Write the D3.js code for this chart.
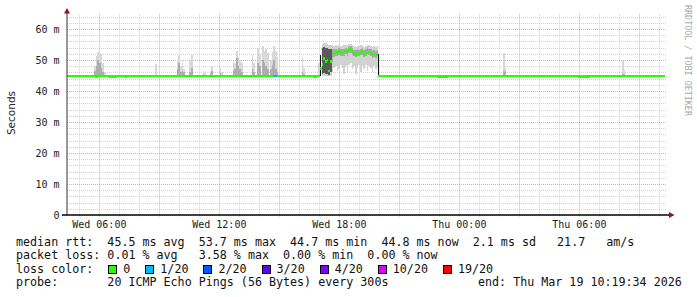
<!DOCTYPE html>
<html><head><meta charset="utf-8">
<script src="https://cdn.jsdelivr.net/npm/d3@7"></script>
<style>body{margin:0;background:#fff}svg{display:block}text{white-space:pre}</style>
</head><body><svg id="c" width="697" height="297"></svg>
<script>
// ---------------- data ----------------
const dayZero = new Date(2026, 2, 18, 0, 0, 0);      // Wed 00:00
const startHour = 4.383, endHour = 34.383;          // 30 hour window
const yTicks = [0, 10, 20, 30, 40, 50, 60];
const yTickLabels = ["0", "10 m", "20 m", "30 m", "40 m", "50 m", "60 m"];
const xTickHours = [6, 12, 18, 24, 30];
const xTickLabels = ["Wed 06:00", "Wed 12:00", "Wed 18:00", "Thu 00:00", "Thu 06:00"];

// median rtt (ms), each value holds until next time (hours since Wed 00:00)
const medianTimes = [4.383, 5.783, 5.933, 6.033, 6.433, 6.883, 7.283, 7.383, 14.70, 14.87, 16.683, 16.883,
  17.033, 17.118, 17.198, 17.283, 17.368, 17.448, 17.533, 17.618, 17.698, 17.783, 17.868, 17.948, 18.033,
  18.118, 18.198, 18.283, 18.368, 18.448, 18.533, 18.618, 18.698, 18.783, 18.868, 18.948, 19.033, 19.118,
  19.198, 19.283, 19.368, 19.448, 19.533, 19.618, 19.698, 19.783, 19.868,
  19.918, 22.90, 23.433, 24.533, 29.933, 30.533, 34.283];
const medianValues = [44.8, 44.6, 45.0, 44.8, 44.7, 44.8, 44.6, 44.8, 44.8, 44.8, 44.7, 44.8,
  47.2, 48.6, 50.4, 49.6, 50.0, 46.5, 49.5, 52.0, 52.2, 52.6, 52.3, 52.8, 52.5,
  52.2, 52.6, 52.9, 52.4, 53.4, 53.7, 52.9, 52.1, 51.8, 52.3, 52.0, 52.5, 52.7,
  51.9, 52.4, 53.1, 52.6, 52.2, 51.7, 51.9, 51.6, 52.1,
  44.8, 44.7, 44.8, 44.8, 44.7, 44.8, 44.8];
const medianLoss = medianTimes.map((t, i) => (i === 8 ? 1 : 0)); // 1/20 loss at one sample

// smoke spikes: [hour, top of light smoke (ms), top of darker smoke (ms)]
const spikeTimes = [5.733, 5.818, 5.898, 5.983, 6.068, 6.148, 6.233, 8.783, 9.868, 9.948, 10.033, 10.118,
  10.198, 10.498, 10.583, 11.168, 11.248, 11.508, 11.593, 12.008, 12.093, 12.668, 12.748, 12.833, 12.918,
  12.998, 13.083, 13.618, 13.698, 13.898, 13.983, 14.133, 14.218, 14.298, 14.383, 14.533, 14.618, 14.698,
  14.783, 14.868, 16.118, 16.198, 26.183, 26.268, 32.133, 32.218];
const spikeHigh = [48.0, 51.4, 52.7, 52.4, 51.8, 49.0, 46.2, 48.7, 50.0, 51.6, 48.0, 48.9,
  47.0, 50.0, 51.6, 46.5, 45.8, 46.5, 47.8, 47.5, 46.0, 49.8, 49.0, 52.8, 51.0,
  50.0, 49.0, 51.6, 49.0, 53.8, 52.0, 54.5, 53.0, 53.7, 52.2, 50.0, 52.5, 54.6,
  53.0, 51.0, 51.1, 47.5, 52.1, 47.5, 49.8, 46.8];
const spikeDark = [46.5, 48.0, 50.0, 49.0, 47.5, 46.0, 45.3, 45.3, 47.0, 49.0, 46.0, 46.5,
  46.0, 46.0, 47.5, 45.5, 45.3, 45.5, 46.5, 45.8, 45.3, 46.5, 47.0, 50.5, 48.0,
  47.0, 46.0, 47.0, 46.0, 49.0, 48.0, 50.0, 49.0, 48.0, 47.0, 47.0, 48.5, 50.0,
  47.0, 46.0, 46.0, 45.5, 46.5, 46.0, 45.5, 45.5];

// smoke during the elevated period: [hour], outer low/high, inner low/high, density level
const bandTimes = [16.95, 17.033, 17.118, 17.198, 17.283, 17.368, 17.448, 17.533, 17.618, 17.698, 17.783,
  17.868, 17.948, 18.033, 18.118, 18.198, 18.283, 18.368, 18.448, 18.533, 18.618, 18.698, 18.783, 18.868,
  18.948, 19.033, 19.118, 19.198, 19.283, 19.368, 19.448, 19.533, 19.618, 19.698, 19.783, 19.868, 19.918];
const bandLow = [44.8, 44.8, 44.8, 44.8, 44.8, 44.8, 44.8, 45.0, 46.0, 47.5, 48.0,
  46.5, 47.0, 48.5, 47.5, 45.5, 48.0, 46.0, 48.5, 49.0, 47.0, 48.0, 45.5, 47.5,
  48.5, 46.0, 48.0, 47.0, 48.5, 46.5, 48.0, 47.5, 46.0, 48.0, 47.0, 48.0, 44.8];
const bandHigh = [49.0, 51.5, 55.2, 55.5, 55.4, 55.3, 55.0, 55.0, 54.8, 54.6, 54.8,
  54.5, 54.8, 54.6, 54.5, 54.7, 55.0, 54.8, 55.2, 55.3, 54.8, 54.5, 54.3, 54.6,
  54.4, 54.7, 54.8, 54.3, 54.6, 55.0, 54.7, 54.5, 54.2, 54.4, 54.2, 54.5, 52.0];
const bandInnerLow = [44.8, 44.8, 45.5, 45.8, 45.5, 45.5, 45.3, 46.0, 49.5, 51.0, 51.3,
  51.2, 51.5, 51.3, 51.2, 51.3, 51.8, 51.4, 52.1, 52.3, 51.5, 51.2, 50.9, 51.4,
  51.2, 51.5, 51.5, 50.9, 51.4, 51.8, 51.5, 51.2, 50.7, 50.9, 50.6, 51.2, 44.8];
const bandInnerHigh = [45.5, 51.5, 54.0, 54.2, 54.0, 53.8, 53.5, 53.5, 53.4, 53.4, 53.6,
  53.3, 53.8, 53.6, 53.4, 53.6, 54.0, 53.7, 54.3, 54.4, 53.8, 53.3, 53.1, 53.4,
  53.2, 53.6, 53.8, 53.1, 53.6, 54.1, 53.7, 53.4, 53.0, 53.1, 52.9, 53.3, 52.0];
const bandLevel = [0, 3, 2, 2, 2, 2, 2, 2, 1, 1, 1, 1, 1, 1, 1, 1, 1, 1, 1, 1, 1, 1, 1, 1,
  1, 1, 1, 1, 1, 1, 1, 1, 1, 1, 1, 1, 3];

const lossLabels = ["0", "1/20", "2/20", "3/20", "4/20", "10/20", "19/20"];
const rttStats = ["45.5", "53.7", "44.7", "44.8", "2.1", "21.7"];
const lossStats = ["0.01", "3.58", "0.00", "0.00"];
const probeText = "20 ICMP Echo Pings (56 Bytes) every 300s";
const endText = "end: Thu Mar 19 10:19:34 2026";

// ---------------- styles ----------------
const lossColors = ["#26ff00", "#00b8ff", "#0059ff", "#5e00ff", "#7e00ff", "#dd00ff", "#ff0000"];
const smokeLight = "#d8d8d8";
const levelColors = ["#d8d8d8", "#a8a8a8", "#5a5a5a", "#111111"];
const mono = "'DejaVu Sans Mono', monospace";

const svg = d3.select("#c");
const hourToDate = h => new Date(dayZero.getTime() + h * 3600e3);
const x = d3.scaleTime().domain([hourToDate(startHour), hourToDate(endHour)]).range([67, 667]);
const y = d3.scaleLinear().domain([0, 65]).range([215, 13.5]);
const stepMs = 5 * 60e3;
const xw = t => x(new Date(hourToDate(t).getTime() + stepMs)) - x(hourToDate(t));

svg.append("rect").attr("width", 697).attr("height", 297).attr("fill", "#fff");

// grid
const g = svg.append("g");
const minorY = d3.range(2, 65, 2).filter(v => v % 10 !== 0);
const majorY = d3.range(10, 65, 10);
const hourLines = d3.range(5, 35);
const minorCol = "#d2d2d2", majorCol = "#eba3a3";
g.selectAll(".hy").data(minorY).join("line")
  .attr("x1", 67).attr("x2", 667).attr("y1", d => Math.round(y(d)) + 0.5).attr("y2", d => Math.round(y(d)) + 0.5)
  .attr("stroke", minorCol).attr("stroke-dasharray", "1,1");
g.selectAll(".vx").data(hourLines.filter(h => h % 3 !== 0)).join("line")
  .attr("x1", d => Math.round(x(hourToDate(d))) + 0.5).attr("x2", d => Math.round(x(hourToDate(d))) + 0.5)
  .attr("y1", 13.5).attr("y2", 217).attr("stroke", minorCol).attr("stroke-dasharray", "1,1");
g.selectAll(".my").data(majorY).join("line")
  .attr("x1", 67).attr("x2", 667).attr("y1", d => Math.round(y(d)) + 0.5).attr("y2", d => Math.round(y(d)) + 0.5)
  .attr("stroke", majorCol).attr("stroke-dasharray", "1,1");
g.selectAll(".mx").data(hourLines.filter(h => h % 3 === 0)).join("line")
  .attr("x1", d => Math.round(x(hourToDate(d))) + 0.5).attr("x2", d => Math.round(x(hourToDate(d))) + 0.5)
  .attr("y1", 13.5).attr("y2", 217).attr("stroke", majorCol).attr("stroke-dasharray", "1,1");

// smoke spikes
const sm = svg.append("g").attr("shape-rendering", "crispEdges");
spikeTimes.forEach((t, i) => {
  sm.append("rect").attr("x", x(hourToDate(t))).attr("width", xw(t))
    .attr("y", y(spikeHigh[i])).attr("height", y(44.6) - y(spikeHigh[i])).attr("fill", smokeLight);
  sm.append("rect").attr("x", x(hourToDate(t))).attr("width", xw(t))
    .attr("y", y(spikeDark[i])).attr("height", y(44.6) - y(spikeDark[i])).attr("fill", "#adadad");
});
bandTimes.forEach((t, i) => {
  const w = bandLevel[i] === 3 ? 1.2 : xw(t);
  sm.append("rect").attr("x", x(hourToDate(t))).attr("width", w)
    .attr("y", y(bandHigh[i])).attr("height", y(bandLow[i]) - y(bandHigh[i])).attr("fill", "#d2d2d2");
  sm.append("rect").attr("x", x(hourToDate(t))).attr("width", w)
    .attr("y", y(bandInnerHigh[i])).attr("height", y(bandInnerLow[i]) - y(bandInnerHigh[i]))
    .attr("fill", levelColors[bandLevel[i]]);
});

// median line, loss coloured
const md = svg.append("g").attr("shape-rendering", "crispEdges");
medianTimes.slice(0, -1).forEach((t, i) => {
  const x0 = x(hourToDate(t)), x1 = x(hourToDate(medianTimes[i + 1]));
  const w = (i >= 12 && i <= 46) ? Math.min(x1 - x0, 1.8) : x1 - x0;
  md.append("rect").attr("x", x0).attr("width", Math.max(w, 1.5))
    .attr("y", y(medianValues[i]) - 1.3).attr("height", 2.6).attr("fill", lossColors[medianLoss[i]]);
});

// axes
svg.append("line").attr("x1", 67).attr("x2", 67).attr("y1", 215).attr("y2", 10).attr("stroke", "#555").attr("stroke-width", 1.2);
svg.append("line").attr("x1", 62).attr("x2", 670).attr("y1", 215).attr("y2", 215).attr("stroke", "#000").attr("stroke-width", 1.4);
svg.append("path").attr("d", "M64,13.5 L67,8 L70,13.5 Z").attr("fill", "#8b1a1a");
svg.append("path").attr("d", "M669,212 L674.5,215 L669,218 Z").attr("fill", "#8b1a1a");

// tick labels
svg.append("g").selectAll("text").data(yTicks).join("text")
  .attr("x", 59.5).attr("y", d => y(d) + 3.6).attr("text-anchor", "end")
  .attr("font-family", mono).attr("font-size", "10px").attr("fill", "#222")
  .text((d, i) => yTickLabels[i]);
svg.append("g").selectAll("text").data(xTickHours).join("text")
  .attr("x", d => x(hourToDate(d))).attr("y", 228).attr("text-anchor", "middle")
  .attr("font-family", mono).attr("font-size", "10px").attr("fill", "#222")
  .text((d, i) => xTickLabels[i]);

svg.append("text").attr("transform", "translate(15,113) rotate(-90)").attr("text-anchor", "middle")
  .attr("font-family", "'DejaVu Sans', sans-serif").attr("font-size", "10.5px").attr("fill", "#222").text("Seconds");
svg.append("text").attr("transform", "translate(685,5) rotate(90)")
  .attr("font-family", mono).attr("font-size", "8.4px").attr("fill", "#a8a8a8").text("RRDTOOL / TOBI OETIKER");

// legend
const lf = "11.68px";
const L = svg.append("g").attr("font-family", mono).attr("font-size", lf).attr("fill", "#111");
L.append("text").attr("x", 16).attr("y", 245.5)
  .text(`median rtt:  ${rttStats[0]} ms avg  ${rttStats[1]} ms max  ${rttStats[2]} ms min  ${rttStats[3]} ms now  ${rttStats[4]} ms sd   ${rttStats[5]}   am/s`);
L.append("text").attr("x", 16).attr("y", 259)
  .text(`packet loss: ${lossStats[0]} % avg   ${lossStats[1]} % max  ${lossStats[2]} % min  ${lossStats[3]} % now`);
L.append("text").attr("x", 16).attr("y", 272.7).text("loss color:");
let cx = 108.3;
lossLabels.forEach((lab, i) => {
  L.append("rect").attr("x", Math.round(cx) + 0.5).attr("y", 265.5).attr("width", 8).attr("height", 8)
    .attr("fill", lossColors[i]).attr("stroke", "#000");
  L.append("text").attr("x", cx + 15).attr("y", 272.7).text(lab);
  cx += 15 + lab.length * 7.03 + 15;
});
L.append("text").attr("x", 16).attr("y", 286.3).text("probe:       " + probeText);
L.append("text").attr("x", 478).attr("y", 286.3).text(endText);
</script></body></html>
